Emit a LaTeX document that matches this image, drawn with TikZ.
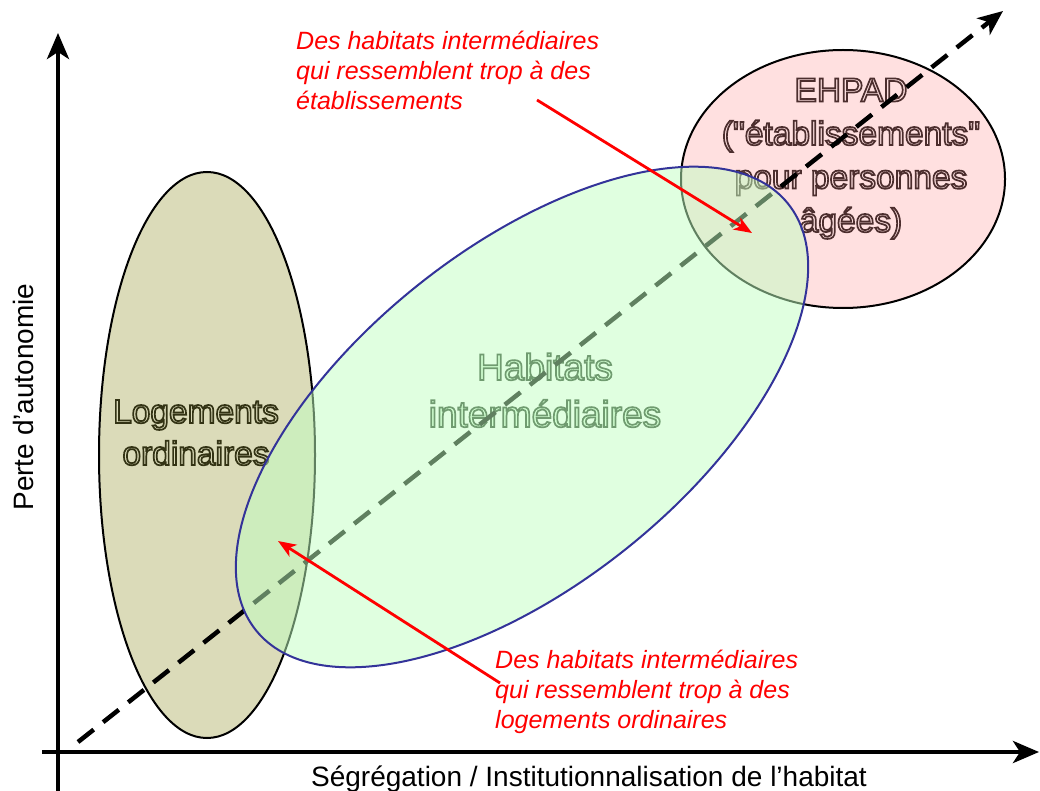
\documentclass[tikz,border=0pt]{standalone}
\usepackage{fontspec}
\setmainfont{Liberation Sans}
\setmonofont{Liberation Sans}
\usetikzlibrary{arrows.meta}
\definecolor{olivefill}{RGB}{219,219,185}
\definecolor{pinkfill}{RGB}{255,224,224}
\definecolor{greenfill}{RGB}{193,255,193}
\definecolor{greentext}{RGB}{224,255,224}
\definecolor{ellblue}{RGB}{51,51,153}
\newcommand{\strokeon}[1]{\special{pdf:literal direct 2 Tr 1.7 w #1 RG}}
\newcommand{\strokeoff}{\special{pdf:literal direct 0 Tr}}
\newcommand{\dq}{\texttt{"}}
\begin{document}
\begin{tikzpicture}[x=1pt,y=-1pt,
  bigtext/.style={align=center, anchor=base, inner sep=0pt},
  redlabel/.style={font=\fontsize{25}{30}\selectfont\itshape, text=red, align=left, anchor=base west, inner sep=0pt},
  axislabel/.style={font=\fontsize{28}{34}\selectfont, inner sep=0pt},
  axisarrow/.style={line width=4.5pt, -{Stealth[length=26pt,width=22pt,inset=7pt]}},
  redarrow/.style={red, line width=2.8pt, -{Stealth[length=18pt,width=14pt,inset=5pt]}},
  ell/.style={line width=2pt}]
\useasboundingbox (0,0) rectangle (1040,791);

% Logements ordinaires
\draw[ell, fill=olivefill] (207,455) ellipse [x radius=108, y radius=283];
\node[bigtext, text=olivefill, font=\fontsize{33.5}{42}\selectfont] (log) at (196,465)
  {\strokeon{0.2 0.2 0.08}Logements\\ordinaires\strokeoff};

% EHPAD
\draw[ell, fill=pinkfill] (843,179) ellipse [x radius=162, y radius=129];
\node[bigtext, text=pinkfill, font=\fontsize{33.5}{43.5}\selectfont] (ehpad) at (851,232)
  {\strokeon{0.3 0.18 0.18}EHPAD\\(\dq établissements\dq\\pour personnes\\âgées)\strokeoff};

% Habitats intermediaires text
\node[bigtext, text=greentext, font=\fontsize{37}{47}\selectfont] (hab) at (545,427)
  {\strokeon{0.12 0.22 0.12}Habitats\\intermédiaires\strokeoff};

% dashed diagonal
\coordinate (d0) at (78,742);
\coordinate (d1) at (1003,11);
\draw[line width=4.5pt, dash pattern=on 20pt off 12pt, -{Stealth[length=25pt,width=21pt,inset=7pt]}] (d0) -- (d1);

% Habitats ellipse (transparent)
\fill[greenfill, fill opacity=0.5, rotate around={38.7:(522,417)}] (522,417) ellipse [x radius=341, y radius=168];
\draw[ell, ellblue, rotate around={38.7:(522,417)}] (522,417) ellipse [x radius=341, y radius=168];

% red labels and arrows
\node[redlabel] (rtop) at (296,110) {Des habitats intermédiaires\\qui ressemblent trop à des\\établissements};
\node[redlabel] (rbot) at (495,728) {Des habitats intermédiaires\\qui ressemblent trop à des\\logements ordinaires};
\coordinate (a1s) at (537,100);
\coordinate (a1e) at (752,233);
\coordinate (a2s) at (500,683);
\coordinate (a2e) at (278,541);
\draw[redarrow] (a1s) -- (a1e);
\draw[redarrow] (a2s) -- (a2e);

% axes
\coordinate (ybot) at (58,791);
\coordinate (ytop) at (58,33);
\coordinate (xl) at (42,752);
\coordinate (xr) at (1039,752);
\draw[axisarrow] (ybot) -- (ytop);
\draw[axisarrow] (xl) -- (xr);
\node[axislabel, rotate=90] (ylab) at (23,397) {Perte d’autonomie};
\node[axislabel, anchor=base] (xlab) at (589,786) {Ségrégation / Institutionnalisation de l’habitat};
\end{tikzpicture}
\end{document}
